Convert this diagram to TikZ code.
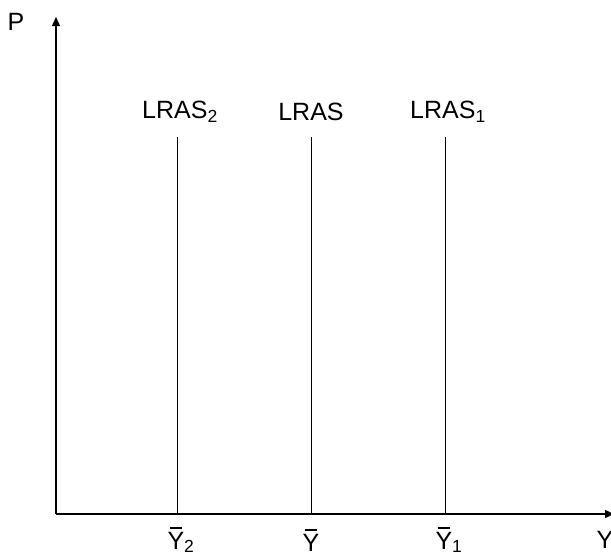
\documentclass[tikz,border=0pt]{standalone}
\usepackage{fontspec}
\setmainfont{Liberation Sans}
\usepackage{tikz}
\usetikzlibrary{arrows.meta, positioning}

\newsavebox{\ybox}
\newcommand{\ybar}{\sbox{\ybox}{Y}\leavevmode\rlap{\hspace{0.08em}\raisebox{1.18\ht\ybox}{\rule{\dimexpr\wd\ybox-0.16em\relax}{0.07em}}}Y}

\begin{document}
\begin{tikzpicture}[
    x=1pt, y=-1pt,
    axis/.style={line width=1.4pt, -{Triangle[length=9pt, width=8pt]}},
    lras/.style={line width=1pt},
    lbl/.style={font=\fontsize{25}{28}\selectfont, inner sep=0pt},
]
    \useasboundingbox (0,0) rectangle (611,558);
    % axes
    \coordinate (o) at (56,514);
    \coordinate (ptop) at (56,17);
    \coordinate (yend) at (614,514);
    \draw[axis] (o) -- (ptop);
    \draw[axis] (o) -- (yend);
    \node[lbl] (p) at (16,22) {P};
    \node[lbl] (y) at (605,540) {Y};

    % long-run supply curves
    \coordinate (l2b) at (177,514);
    \coordinate (l0b) at (311,514);
    \coordinate (l1b) at (445,514);
    \coordinate (l2t) at (177,137);
    \coordinate (l0t) at (311,137);
    \coordinate (l1t) at (445,137);
    \draw[lras] (l2b) -- (l2t);
    \draw[lras] (l0b) -- (l0t);
    \draw[lras] (l1b) -- (l1t);

    \node[lbl] (lras2) at (180,112) {LRAS\textsubscript{2}};
    \node[lbl] (lras) at (311,112) {LRAS};
    \node[lbl] (lras1) at (448,112) {LRAS\textsubscript{1}};

    \node[lbl] (ybar2) at (181,540) {\ybar\textsubscript{2}};
    \node[lbl] (ybar0) at (311,540) {\ybar};
    \node[lbl] (ybar1) at (449,540) {\ybar\textsubscript{1}};
\end{tikzpicture}
\end{document}
